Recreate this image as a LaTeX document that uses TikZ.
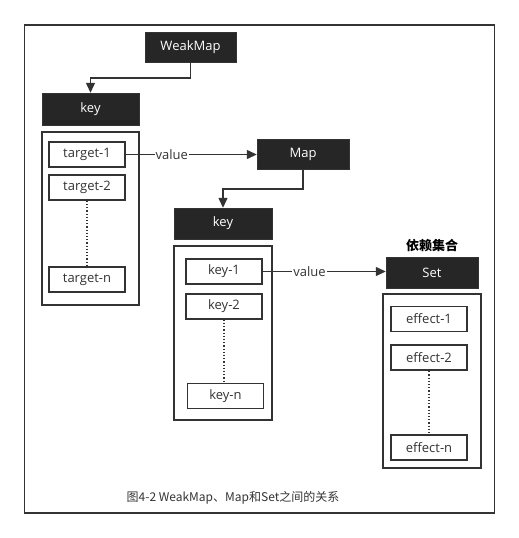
\documentclass[tikz,border=0pt]{standalone}
\usepackage{fontspec}
\setmainfont{Open Sans}
\newfontfamily\cjk{Noto Sans CJK SC}
\usepackage{tikz}
\usetikzlibrary{arrows.meta,positioning}
\definecolor{inkgray}{HTML}{333333}
\definecolor{boxdark}{HTML}{262626}
\tikzset{
  darkbox/.style={draw=inkgray, fill=boxdark, text=white, inner sep=0pt, font=\fontsize{13}{15}\selectfont},
  holder/.style={draw=inkgray, line width=1.8pt, minimum width=98pt, minimum height=174pt, inner sep=0pt},
  itembox/.style={draw=inkgray, line width=1.8pt, fill=white, text=inkgray, minimum width=76pt, minimum height=25pt, inner sep=0pt, font=\fontsize{13}{15}\selectfont},
  link/.style={draw=inkgray, line width=1.3pt, -{Triangle[length=10pt,width=9pt]}},
  dots/.style={draw=inkgray, line width=1.2pt, dotted},
  lbl/.style={fill=white, inner sep=1pt, text=inkgray, font=\fontsize{13}{15}\selectfont}
}

\begin{document}
\begin{tikzpicture}[x=1pt, y=-1pt]
  \useasboundingbox (0,0) rectangle (519,538);
  % outer frame
  \draw[draw=inkgray, line width=1.8pt] (24.5,25) rectangle (494.5,513);

  % WeakMap level
  \node[darkbox, minimum width=91pt, minimum height=30pt] (wm) at (190.5,47) {WeakMap};
  \node[darkbox, minimum width=97pt, minimum height=32pt] (wmkey) at (90.5,109) {key};
  \node[holder, minimum width=97pt, minimum height=173pt] (tgtholder) at (90.5,218.5) {};
  \node[itembox] (tgt1) at (87,154.5) {target-1};
  \node[itembox, below=6pt of tgt1] (tgt2) {target-2};
  \node[itembox] (tgtn) at (87,279.5) {target-n};

  % Map level
  \node[darkbox, minimum width=92pt, minimum height=30pt] (map) at (303,154) {Map};
  \node[darkbox, minimum width=98pt, minimum height=31pt] (mapkey) at (223,223.5) {key};
  \node[holder] (keyholder) at (223,333) {};
  \node[itembox] (key1) at (224,271.5) {key-1};
  \node[itembox, below=8pt of key1] (key2) {key-2};
  \node[itembox] (keyn) at (225.5,396) {key-n};

  % Set level
  \node[darkbox, minimum width=92pt, minimum height=31pt] (set) at (432,272.5) {Set};
  \node[above=1pt of set, text=black, font=\cjk\bfseries\fontsize{13}{15}\selectfont] (setlbl) {依赖集合};
  \node[holder] (effholder) at (432,381) {};
  \node[itembox] (eff1) at (429,319) {effect-1};
  \node[itembox, below=12pt of eff1] (eff2) {effect-2};
  \node[itembox] (effn) at (429,447.5) {effect-n};

  % connectors
  \coordinate (wmbend) at (190.5,78);
  \coordinate (mapbend) at (303,189);
  \draw[link] (wm.south) -- (wmbend) -| (wmkey.north);
  \draw[link] (map.south) -- (mapbend) -| (mapkey.north);
  \draw[link] (tgt1.east) -- (tgt1.east -| map.west) node[lbl, pos=0.35] {value};
  \draw[link] (key1.east) -- (key1.east -| set.west) node[lbl, pos=0.38] {value};
  \draw[dots] (tgt2.south) -- (tgtn.north);
  \draw[dots] (key2.south) -- (key2.south |- keyn.north);
  \draw[dots] (eff2.south) -- (effn.north);

  % caption
  \node[text=inkgray, font=\cjk\fontsize{12}{14}\selectfont] (caption) at (233,498) {图4-2 WeakMap、Map和Set之间的关系};
\end{tikzpicture}
\end{document}
